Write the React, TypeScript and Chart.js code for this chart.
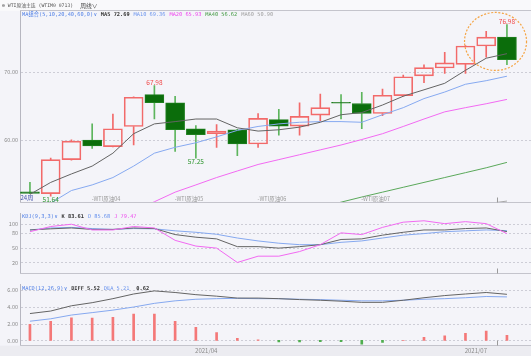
import React, { useEffect, useRef } from 'react';
import { Chart, registerables } from 'chart.js';

Chart.register(...registerables);

const FONT = '"Noto Sans CJK SC", "Noto Sans", sans-serif';
const MONO = '"DejaVu Sans Mono", "Noto Sans CJK SC", monospace';

// ---- weekly candles (24 weeks) ----
const openPrices = [52.25, 51.99, 57.03, 59.91, 58.95, 61.93, 66.63, 65.43, 61.59, 60.87, 61.44, 59.34, 62.94, 61.97, 63.6, 65.48, 65.33, 63.85, 66.48, 69.42, 70.58, 71.1, 73.83, 75.13];
const highPrices = [53.66, 57.26, 59.95, 62.31, 63.75, 66.3, 67.98, 66.4, 62.07, 62.22, 61.5, 63.85, 64.47, 65.43, 66.73, 66.63, 66.97, 67.45, 69.51, 71.05, 72.88, 73.9, 76.0, 76.98];
const lowPrices = [52.0, 51.64, 56.95, 58.7, 58.9, 59.19, 63.03, 58.23, 57.25, 58.85, 57.61, 58.85, 60.63, 60.63, 62.8, 63.03, 61.59, 63.52, 66.4, 68.41, 69.76, 69.76, 72.16, 71.05];
const closePrices = [52.05, 57.03, 59.77, 59.05, 61.59, 66.25, 65.43, 61.44, 60.72, 61.25, 59.34, 63.13, 61.97, 63.42, 64.71, 65.38, 63.85, 66.54, 69.28, 70.62, 71.34, 73.83, 75.13, 71.82];

// ---- moving averages ----
const ma5 = [51.89, 53.66, 54.91, 56.07, 57.98, 60.86, 62.31, 62.65, 63.03, 63.03, 61.73, 61.25, 61.44, 61.83, 62.55, 63.66, 63.99, 65.1, 66.4, 67.35, 68.31, 70.23, 72.02, 72.69];
const ma10 = [49.0, 50.6, 52.46, 53.29, 54.38, 56.07, 57.98, 58.85, 59.52, 60.39, 61.35, 61.93, 62.31, 62.55, 62.65, 62.65, 62.55, 63.66, 64.71, 66.05, 67.02, 68.17, 68.7, 69.36];
const ma20 = [null, null, null, null, null, 49.4, 50.8, 52.22, 53.29, 54.38, 55.35, 56.31, 57.03, 57.75, 58.47, 59.19, 60.0, 60.86, 61.93, 63.03, 64.09, 64.71, 65.29, 65.93];
const ma40 = [null, null, null, null, null, null, null, null, null, null, null, null, null, null, 50.0, 50.74, 51.5, 52.22, 52.94, 53.66, 54.38, 55.1, 55.82, 56.62];
const ma60 = [null, null, null, null, null, null, null, null, null, null, null, null, null, null, null, null, null, null, null, null, 49.6, 50.1, 50.5, 50.9];

// ---- KDJ ----
const kValues = [87.0, 89.3, 91.1, 88.1, 88.1, 91.1, 89.9, 77.5, 72.1, 68.6, 52.6, 52.6, 49.6, 52.6, 56.7, 67.4, 68.6, 76.3, 82.2, 87.0, 87.0, 89.9, 91.1, 83.61];
const dValues = [87.0, 91.1, 92.3, 89.9, 88.1, 89.9, 89.3, 85.2, 82.2, 78.1, 70.4, 64.4, 59.7, 56.7, 56.7, 61.5, 64.4, 70.4, 76.3, 79.5, 83.4, 85.2, 87.0, 85.68];
const jValues = [83.4, 94.1, 98.8, 87.0, 87.0, 94.1, 91.1, 65.6, 53.8, 49.6, 20.0, 33.0, 33.0, 42.5, 56.7, 81.0, 77.5, 92.3, 103.0, 105.9, 100.0, 104.1, 100.0, 79.47];

// ---- MACD ----
const diffValues = [3.22, 3.52, 4.15, 4.52, 5.0, 5.56, 5.93, 5.74, 5.48, 5.3, 5.07, 5.07, 5.0, 4.89, 4.81, 4.7, 4.56, 4.56, 4.81, 5.11, 5.37, 5.56, 5.74, 5.52];
const deaValues = [2.3, 2.59, 3.04, 3.33, 3.63, 4.0, 4.44, 4.74, 4.93, 5.0, 5.04, 5.0, 5.0, 4.93, 4.89, 4.81, 4.74, 4.74, 4.81, 4.93, 5.0, 5.11, 5.26, 5.21];
const macdValues = [1.93, 2.3, 2.7, 2.67, 2.78, 3.15, 3.15, 2.3, 1.56, 0.93, 0.26, 0.07, -0.18, -0.18, -0.15, -0.15, -0.45, -0.25, 0.02, 0.37, 0.56, 0.85, 1.11, 0.62];

// ---- tick values / labels ----
const priceTicks = [60, 70];
const kdjTicks = [20, 50, 80, 100];
const macdTicks = [0, 2, 4, 6];
const contractLabels = [
  { at: 3, text: '-WTI原油04' },
  { at: 7, text: '-WTI原油05' },
  { at: 11, text: '-WTI原油06' },
  { at: 16, text: '-WTI原油07' },
];
const monthLabels = [
  { at: 8.5, text: '2021/04' },
  { at: 21.5, text: '2021/07' },
];
const extremeLabels = [
  { at: 1, kind: 'low' },
  { at: 6, kind: 'high' },
  { at: 8, kind: 'low' },
  { at: 23, kind: 'high' },
];
const focusMark = { at: 22.45, value: 74.5 };
const cursorAt = 22.5;

// ---- styles ----
const PANEL_BG = '#f4f4f9';
const TOP_BG = '#f9f9fb';
const BOTTOM_BG = '#ececf1';
const SEP = '#c4c4cc';
const RED = '#f26a6a';
const GREEN_BODY = '#0b6d0b';
const GREEN_BORDER = '#1f7f1f';
const GREEN_WICK = '#5db55d';
const C_DARK = '#646464';
const C_BLUE = '#86a9f0';
const C_MAG = '#f26af2';
const C_GREEN = '#5aa85a';
const C_GRAY = '#a8a8a8';
const T_BLUE = '#4f7fe6';

const X_MIN = -0.48;
const X_MAX = 24.16;

const isUp = closePrices.map((c, i) => c >= openPrices[i]);

type Seg = { text: string; color: string; bold?: boolean; size?: number; gap?: number; family?: string };

function drawSegments(ctx: CanvasRenderingContext2D, x: number, y: number, segs: Seg[]) {
  let cx = x;
  ctx.textBaseline = 'middle';
  ctx.textAlign = 'left';
  for (const s of segs) {
    ctx.font = `${s.bold ? 'bold ' : ''}${s.size ?? 5.3}px ${s.family ?? MONO}`;
    ctx.fillStyle = s.color;
    ctx.fillText(s.text, cx, y);
    cx += ctx.measureText(s.text).width + (s.gap ?? 4);
  }
}

function xScale() {
  return { type: 'linear', min: X_MIN, max: X_MAX, offset: false, display: false, grid: { offset: false } };
}

function yScale(min: number, max: number, ticks: number[], digits: number) {
  return {
    type: 'linear',
    position: 'left',
    min,
    max,
    grid: { display: false, drawTicks: false },
    border: { display: true, color: '#b6b6c0', width: 1 },
    ticks: {
      autoSkip: false,
      padding: 2,
      color: '#8a8a8a',
      font: { size: 5.5, family: FONT },
      callback: (v: number) => Number(v).toFixed(digits),
    },
    afterBuildTicks: (s: any) => {
      s.ticks = ticks.map((v) => ({ value: v }));
    },
    afterFit: (s: any) => {
      s.width = 20;
    },
  };
}

const dotGrid = {
  id: 'dotGrid',
  beforeDatasetsDraw(chart: any) {
    const { ctx, chartArea, scales } = chart;
    const y = scales.y;
    ctx.save();
    ctx.strokeStyle = '#cdcdd6';
    ctx.lineWidth = 1;
    ctx.setLineDash([2, 2]);
    y.ticks.forEach((t: any) => {
      const py = Math.round(y.getPixelForValue(t.value)) + 0.5;
      ctx.beginPath();
      ctx.moveTo(chartArea.left + 1, py);
      ctx.lineTo(chartArea.right, py);
      ctx.stroke();
    });
    ctx.restore();
  },
};

function panelBackground(topFill: string | null, bottomFill: string | null) {
  return {
    id: 'panelBg',
    beforeDraw(chart: any) {
      const { ctx, width, height, chartArea } = chart;
      ctx.save();
      ctx.fillStyle = PANEL_BG;
      ctx.fillRect(0, 0, width, height);
      if (topFill) {
        ctx.fillStyle = topFill;
        ctx.fillRect(0, 0, width, chartArea.top);
      }
      if (bottomFill) {
        ctx.fillStyle = bottomFill;
        ctx.fillRect(0, chartArea.bottom, width, height - chartArea.bottom);
      }
      ctx.restore();
    },
  };
}

function separators(drawTop: boolean) {
  return {
    id: 'separators',
    afterDraw(chart: any) {
      const { ctx, chartArea, width, scales } = chart;
      ctx.save();
      ctx.strokeStyle = SEP;
      ctx.lineWidth = 1;
      if (drawTop) {
        const t = Math.round(chartArea.top) - 0.5;
        ctx.beginPath();
        ctx.moveTo(chartArea.left, t);
        ctx.lineTo(width, t);
        ctx.stroke();
      }
      const b = Math.round(chartArea.bottom) - 0.5;
      ctx.beginPath();
      ctx.moveTo(chartArea.left, b);
      ctx.lineTo(width, b);
      ctx.stroke();
      // cursor tick
      const cx = Math.round(scales.x.getPixelForValue(cursorAt)) + 0.5;
      ctx.strokeStyle = '#9a9a9a';
      ctx.beginPath();
      ctx.moveTo(cx, b - 5);
      ctx.lineTo(cx, b);
      ctx.stroke();
      ctx.restore();
    },
  };
}

function lineDs(label: string, values: (number | null)[], color: string) {
  return {
    type: 'line',
    label,
    order: 0,
    data: values.map((v, i) => ({ x: i, y: v })),
    borderColor: color,
    borderWidth: 1,
    pointRadius: 0,
    pointHoverRadius: 0,
    tension: 0,
    fill: false,
    spanGaps: false,
  };
}

const baseOptions = (padding: any, yOpts: any) => ({
  responsive: false,
  maintainAspectRatio: false,
  animation: false,
  events: [],
  layout: { padding },
  scales: { x: xScale(), y: yOpts },
  plugins: { legend: { display: false }, tooltip: { enabled: false } },
});

const last = (a: (number | null)[]) => (a[a.length - 1] as number).toFixed(2);

export default function App() {
  const mainRef = useRef<HTMLCanvasElement>(null);
  const kdjRef = useRef<HTMLCanvasElement>(null);
  const macdRef = useRef<HTMLCanvasElement>(null);

  useEffect(() => {
    const charts: Chart[] = [];

    // ---------- main candlestick panel ----------
    const mainOverlay = {
      id: 'mainOverlay',
      afterDraw(chart: any) {
        const { ctx, chartArea, scales } = chart;
        const x = scales.x;
        const y = scales.y;
        ctx.save();
        // header
        drawSegments(ctx, 2, 5.5, [
          { text: '⊖ WTI原油主连 (WTIM0 0713)', color: '#555', size: 4.8, gap: 7 },
          { text: '周线∨', color: '#444', size: 5.8, family: FONT },
        ]);
        // legend
        drawSegments(ctx, chartArea.left + 2, chartArea.top + 3.6, [
          { text: 'MA组合(5,10,20,40,60,0)', color: T_BLUE, gap: 0.5 },
          { text: '∨', color: T_BLUE, gap: 4 },
          { text: `MA5 ${last(ma5)}`, color: '#333', bold: true },
          { text: `MA10 ${last(ma10)}`, color: '#6c95ee' },
          { text: `MA20 ${last(ma20)}`, color: '#ee44ee' },
          { text: `MA40 ${last(ma40)}`, color: '#3f983f' },
          { text: `MA60 ${last(ma60)}`, color: '#a0a0a0' },
        ]);
        // contract labels
        ctx.font = `5.5px ${FONT}`;
        ctx.fillStyle = '#9a9a9a';
        ctx.textBaseline = 'middle';
        ctx.textAlign = 'left';
        contractLabels.forEach((l) => {
          ctx.fillText(l.text, x.getPixelForValue(l.at) - 0.5, chartArea.bottom - 4);
        });
        // period label
        ctx.font = `6px ${FONT}`;
        ctx.fillStyle = '#3f4fa8';
        ctx.fillText('24周', chartArea.left + 0.5, chartArea.bottom - 4.5);
        // extreme labels
        ctx.font = `6.5px ${FONT}`;
        ctx.textAlign = 'center';
        extremeLabels.forEach((l) => {
          const px = x.getPixelForValue(l.at);
          if (l.kind === 'high') {
            ctx.fillStyle = '#f04a4a';
            ctx.fillText(highPrices[l.at].toFixed(2), px, y.getPixelForValue(highPrices[l.at]) - 3.4);
          } else {
            ctx.fillStyle = '#2f962f';
            ctx.fillText(lowPrices[l.at].toFixed(2), px, y.getPixelForValue(lowPrices[l.at]) + 3.4);
          }
        });
        // focus ring
        ctx.strokeStyle = '#f5a443';
        ctx.lineWidth = 1.2;
        ctx.setLineDash([2, 1.6]);
        ctx.beginPath();
        ctx.ellipse(x.getPixelForValue(focusMark.at), y.getPixelForValue(focusMark.value), 31, 29, 0, 0, Math.PI * 2);
        ctx.stroke();
        ctx.restore();
      },
    };

    if (mainRef.current) {
      charts.push(
        new Chart(mainRef.current, {
          type: 'bar',
          data: {
            datasets: [
              lineDs('MA5', ma5, C_DARK),
              lineDs('MA10', ma10, C_BLUE),
              lineDs('MA20', ma20, C_MAG),
              lineDs('MA40', ma40, C_GREEN),
              lineDs('MA60', ma60, C_GRAY),
              {
                type: 'bar',
                label: 'body',
                order: 1,
                data: openPrices.map((o, i) => ({ x: i, y: [o, closePrices[i]] })),
                backgroundColor: isUp.map((u) => (u ? 'rgba(0,0,0,0)' : GREEN_BODY)),
                borderColor: isUp.map((u) => (u ? RED : GREEN_BORDER)),
                borderWidth: 1,
                borderSkipped: false,
                barThickness: 19,
                grouped: false,
              },
              {
                type: 'bar',
                label: 'upperWick',
                order: 2,
                data: openPrices.map((o, i) => ({ x: i, y: [Math.max(o, closePrices[i]), highPrices[i]] })),
                backgroundColor: isUp.map((u) => (u ? RED : GREEN_WICK)),
                borderWidth: 0,
                barThickness: 1,
                grouped: false,
              },
              {
                type: 'bar',
                label: 'lowerWick',
                order: 2,
                data: openPrices.map((o, i) => ({ x: i, y: [lowPrices[i], Math.min(o, closePrices[i])] })),
                backgroundColor: isUp.map((u) => (u ? RED : GREEN_WICK)),
                borderWidth: 0,
                barThickness: 1,
                grouped: false,
              },
            ] as any,
          },
          options: baseOptions({ top: 11, bottom: 0.5, left: 0, right: 0 }, yScale(50.66, 79.0, priceTicks, 2)) as any,
          plugins: [panelBackground(TOP_BG, null), dotGrid, separators(true), mainOverlay],
        })
      );
    }

    // ---------- KDJ panel ----------
    const kdjOverlay = {
      id: 'kdjOverlay',
      afterDraw(chart: any) {
        const { ctx, chartArea } = chart;
        ctx.save();
        drawSegments(ctx, chartArea.left + 2, chartArea.top + 3.2, [
          { text: 'KDJ(9,3,3)', color: T_BLUE, gap: 0.5 },
          { text: '∨', color: T_BLUE, gap: 4 },
          { text: `K ${last(kValues)}`, color: '#333', bold: true },
          { text: `D ${last(dValues)}`, color: '#6c95ee' },
          { text: `J ${last(jValues)}`, color: '#ee44ee' },
        ]);
        ctx.restore();
      },
    };
    if (kdjRef.current) {
      charts.push(
        new Chart(kdjRef.current, {
          type: 'line',
          data: {
            datasets: [
              lineDs('J', jValues, C_MAG),
              lineDs('K', kValues, C_DARK),
              lineDs('D', dValues, C_BLUE),
            ] as any,
          },
          options: baseOptions({ top: 0, bottom: 1, left: 0, right: 0 }, yScale(-3.1, 121.3, kdjTicks, 0)) as any,
          plugins: [panelBackground(null, null), dotGrid, separators(false), kdjOverlay],
        })
      );
    }

    // ---------- MACD panel ----------
    const macdOverlay = {
      id: 'macdOverlay',
      afterDraw(chart: any) {
        const { ctx, chartArea, scales } = chart;
        ctx.save();
        drawSegments(ctx, chartArea.left + 2, chartArea.top + 4, [
          { text: 'MACD(12,26,9)', color: T_BLUE, gap: 0.5 },
          { text: '∨', color: T_BLUE, gap: 4 },
          { text: `DIFF ${last(diffValues)}`, color: '#333', bold: true },
          { text: `DEA ${last(deaValues)}`, color: '#6c95ee', gap: 7 },
          { text: last(macdValues), color: '#333', bold: true },
        ]);
        ctx.font = `6px ${FONT}`;
        ctx.fillStyle = '#8a8a8a';
        ctx.textAlign = 'center';
        ctx.textBaseline = 'middle';
        monthLabels.forEach((m) => {
          ctx.fillText(m.text, scales.x.getPixelForValue(m.at), chartArea.bottom + 5);
        });
        ctx.restore();
      },
    };
    if (macdRef.current) {
      charts.push(
        new Chart(macdRef.current, {
          type: 'bar',
          data: {
            datasets: [
              lineDs('DIFF', diffValues, C_DARK),
              lineDs('DEA', deaValues, C_BLUE),
              {
                type: 'bar',
                label: 'MACD',
                order: 1,
                data: macdValues.map((v, i) => ({ x: i, y: v })),
                backgroundColor: macdValues.map((v) => (v >= 0 ? '#f47878' : '#4fae4f')),
                borderWidth: 0,
                barThickness: 2,
                grouped: false,
              },
            ] as any,
          },
          options: baseOptions({ top: 0.5, bottom: 10.3, left: 0, right: 0 }, yScale(-0.63, 6.72, macdTicks, 2)) as any,
          plugins: [panelBackground(null, BOTTOM_BG), dotGrid, separators(false), macdOverlay],
        })
      );
    }

    return () => charts.forEach((c) => c.destroy());
  }, []);

  return (
    <div style={{ position: 'fixed', left: 0, top: 0, width: 531, height: 356, background: PANEL_BG, overflow: 'hidden' }}>
      <canvas ref={mainRef} width={531} height={208} style={{ position: 'absolute', left: 0, top: 0, width: 531, height: 208 }} />
      <canvas ref={kdjRef} width={531} height={71} style={{ position: 'absolute', left: 0, top: 208, width: 531, height: 71 }} />
      <canvas ref={macdRef} width={531} height={77} style={{ position: 'absolute', left: 0, top: 279, width: 531, height: 77 }} />
    </div>
  );
}
